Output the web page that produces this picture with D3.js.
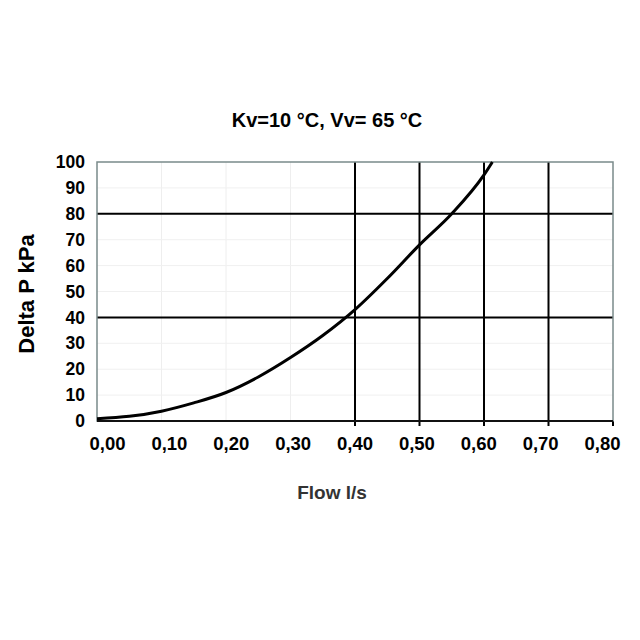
<!DOCTYPE html>
<html><head><meta charset="utf-8">
<script src="https://cdn.jsdelivr.net/npm/d3@7"></script>
<style>body{margin:0;background:#fff}</style>
</head><body>
<svg id="c" width="640" height="640"></svg>
<script>
const flow = [0, 0.05, 0.10, 0.15, 0.20, 0.25, 0.30, 0.35, 0.40, 0.45, 0.50, 0.55, 0.60, 0.613];
const deltaP = [0.9, 1.8, 3.8, 7, 11, 17, 24.5, 33, 43, 55, 68, 80, 95, 100];
const xTicks = [0, 0.1, 0.2, 0.3, 0.4, 0.5, 0.6, 0.7, 0.8];
const yTicks = [0, 10, 20, 30, 40, 50, 60, 70, 80, 90, 100];
const majorX = [0.4, 0.5, 0.6, 0.7];
const majorY = [40, 80];
const title = "Kv=10 °C, Vv= 65 °C";
const xTitle = "Flow l/s";
const yTitle = "Delta P kPa";

const svg = d3.select("#c");
const L = 97, R = 613, T = 162, B = 421;
const x = d3.scaleLinear().domain([0, 0.8]).range([L, R]);
const xLab = d3.scaleLinear().domain([0, 0.8]).range([107, 602]);
const y = d3.scaleLinear().domain([0, 100]).range([B, T]);
const font = "'Liberation Sans', Arial, sans-serif";

// faint grid
svg.append("g").selectAll("line").data(xTicks.filter(d => d > 0 && d < 0.8 && !majorX.includes(d)))
  .join("line").attr("x1", d => x(d)).attr("x2", d => x(d)).attr("y1", T).attr("y2", B)
  .attr("stroke", "#eeeeee").attr("stroke-width", 1);
svg.append("g").selectAll("line").data(yTicks.filter(d => d > 0 && d < 100 && !majorY.includes(d)))
  .join("line").attr("x1", L).attr("x2", R).attr("y1", d => y(d)).attr("y2", d => y(d))
  .attr("stroke", "#f0f0f0").attr("stroke-width", 1);
// major grid
svg.append("g").selectAll("line").data(majorX)
  .join("line").attr("x1", d => x(d)).attr("x2", d => x(d)).attr("y1", T).attr("y2", B + 5)
  .attr("stroke", "#000").attr("stroke-width", 2);
svg.append("g").selectAll("line").data(majorY)
  .join("line").attr("x1", L).attr("x2", R).attr("y1", d => y(d)).attr("y2", d => y(d))
  .attr("stroke", "#000").attr("stroke-width", 2);
svg.append("line").attr("x1", x(0.8)).attr("x2", x(0.8)).attr("y1", B).attr("y2", B + 5).attr("stroke", "#000").attr("stroke-width", 2);

// border
svg.append("rect").attr("x", L).attr("y", T).attr("width", R - L).attr("height", B - T)
  .attr("fill", "none").attr("stroke", "#7a8a8a").attr("stroke-width", 1.5);
svg.append("line").attr("x1", L).attr("x2", R).attr("y1", B).attr("y2", B).attr("stroke", "#111").attr("stroke-width", 2);

// x tick labels
const xAxis = d3.axisBottom(xLab).tickValues(xTicks).tickSize(0).tickPadding(16)
  .tickFormat(d => d3.format(".2f")(d).replace(".", ","));
const gx = svg.append("g").attr("transform", `translate(0,${B})`).call(xAxis);
gx.select(".domain").remove();
gx.selectAll("text").attr("font-family", font).attr("font-weight", "bold").attr("font-size", 18.5).attr("fill", "#000");

const yAxis = d3.axisLeft(y).tickValues(yTicks).tickSize(0).tickPadding(12);
const gy = svg.append("g").attr("transform", `translate(${L},0)`).call(yAxis);
gy.select(".domain").remove();
gy.selectAll("text").attr("font-family", font).attr("font-weight", "bold").attr("font-size", 17.5).attr("fill", "#000");

// curve
const pts = flow.map((f, i) => [f, deltaP[i]]);
svg.append("path").datum(pts)
  .attr("d", d3.line().x(d => x(d[0])).y(d => y(d[1])).curve(d3.curveMonotoneX))
  .attr("fill", "none").attr("stroke", "#000").attr("stroke-width", 3);

// titles
svg.append("text").attr("x", 327).attr("y", 127).attr("text-anchor", "middle")
  .attr("font-family", font).attr("font-weight", "bold").attr("font-size", 20).text(title);
svg.append("text").attr("x", 332).attr("y", 499).attr("text-anchor", "middle")
  .attr("font-family", font).attr("font-weight", "bold").attr("font-size", 19).attr("fill", "#333").text(xTitle);
svg.append("text").attr("transform", "translate(34,294) rotate(-90)").attr("text-anchor", "middle")
  .attr("font-family", font).attr("font-weight", "bold").attr("font-size", 22).text(yTitle);
</script>
</body></html>
